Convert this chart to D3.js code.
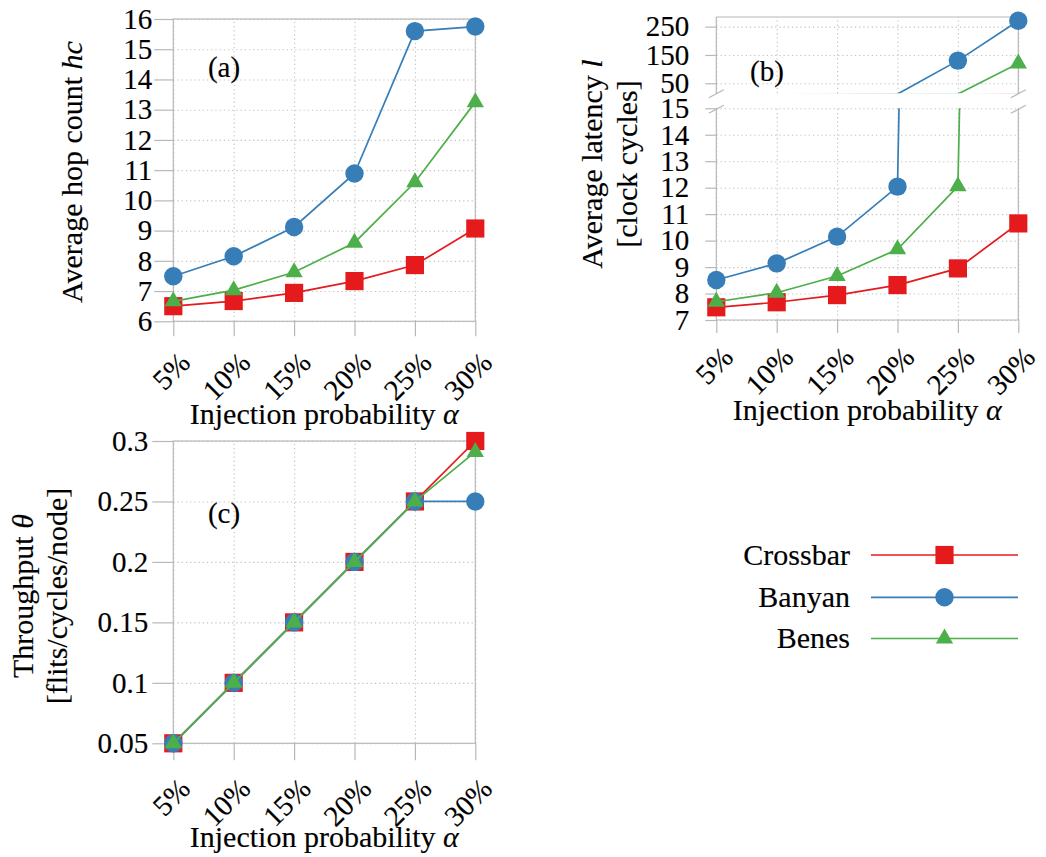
<!DOCTYPE html>
<html>
<head>
<meta charset="utf-8">
<script src="https://cdn.jsdelivr.net/npm/d3@7"></script>
<style>
  body { margin: 0; background: #fff; }
  svg text { font-family: "Liberation Serif", "Times New Roman", serif; font-size: 29px; fill: #000;
             stroke: #000; stroke-width: 0.15px; }
  svg text.label { font-size: 30px; }
</style>
</head>
<body>
<svg id="chart" width="1046" height="857"></svg>
<script>
// ---- data ----
const categories = ["5%", "10%", "15%", "20%", "25%", "30%"];
const seriesNames = ["Crossbar", "Banyan", "Benes"];

// (a) average hop count
const hopCrossbar = [6.5, 6.67, 6.94, 7.33, 7.86, 9.07];
const hopBanyan   = [7.49, 8.15, 9.12, 10.89, 15.6, 15.75];
const hopBenes    = [6.66, 7.03, 7.62, 8.6, 10.6, 13.25];

// (b) average latency
const latCrossbar = [7.48, 7.67, 7.94, 8.32, 8.95, 10.65];
const latBanyan   = [8.51, 9.14, 10.15, 12.04, 130, 271];
const latBenes    = [7.69, 8.03, 8.66, 9.67, 12.05, 120];

// (c) throughput
const thrCrossbar = [0.05, 0.1, 0.15, 0.2, 0.25, 0.3];
const thrBanyan   = [0.05, 0.1, 0.15, 0.2, 0.25, 0.25];
const thrBenes    = [0.05, 0.1, 0.15, 0.2, 0.25, 0.291];

// tick values
const hopTicks = [6, 7, 8, 9, 10, 11, 12, 13, 14, 15, 16];
const latLowTicks = [7, 8, 9, 10, 11, 12, 13, 14, 15];
const latHighTicks = [50, 150, 250];
const thrTicks = [0.05, 0.1, 0.15, 0.2, 0.25, 0.3];
const thrTickLabels = ["0.05", "0.1", "0.15", "0.2", "0.25", "0.3"];

// ---- styling ----
const colors = ["#e41a1c", "#377eb8", "#4daf4a"];
const symbols = [d3.symbolSquare, d3.symbolCircle, d3.symbolTriangle];
const symbolSizes = [330, 266, 130];
const AXIS = "#b8b8b8";
const GRID = "#c4c4c4";

const svg = d3.select("#chart");

function tidyAxis(sel) {
  sel.attr("font-family", null).attr("font-size", null);
  sel.select(".domain").remove();
  sel.selectAll(".tick line").attr("stroke", AXIS).attr("stroke-width", 1.2);
  sel.selectAll(".tick text").attr("fill", "#000");
}

function hGrid(g, x, y, ticks) {
  const ax = g.append("g").attr("transform", `translate(${x.range()[0]},0)`)
    .call(d3.axisLeft(y).tickValues(ticks).tickSize(-(x.range()[1] - x.range()[0])).tickFormat(""));
  ax.select(".domain").remove();
  ax.selectAll(".tick line").attr("stroke", GRID).attr("stroke-width", 1.1).attr("stroke-dasharray", "1.3 2.9");
}

function vGrid(g, x, yTop, yBottom) {
  const ax = g.append("g").attr("transform", `translate(0,${yBottom})`)
    .call(d3.axisBottom(x).tickSize(-(yBottom - yTop)).tickFormat(""));
  ax.select(".domain").remove();
  ax.selectAll(".tick line").attr("stroke", GRID).attr("stroke-width", 1.1).attr("stroke-dasharray", "1.3 2.9");
}

function yAxis(g, x, y, ticks, fmt, len, pad) {
  const ax = g.append("g").attr("transform", `translate(${x.range()[0]},0)`)
    .call(d3.axisLeft(y).tickValues(ticks).tickSize(len).tickPadding(pad).tickFormat(fmt));
  tidyAxis(ax);
}

function xAxis(g, x, yBase, len, dx, dy) {
  const ax = g.append("g").attr("transform", `translate(0,${yBase})`)
    .call(d3.axisBottom(x).tickSize(len));
  tidyAxis(ax);
  ax.selectAll(".tick text")
    .attr("y", null).attr("dy", null)
    .attr("text-anchor", "end")
    .attr("transform", `translate(${dx},${dy}) rotate(-45)`);
}

function xLabel(g, x, baseline) {
  const t = g.append("text").attr("class", "label").attr("x", (x.range()[0] + x.range()[1]) / 2)
    .attr("y", baseline).attr("text-anchor", "middle");
  t.append("tspan").text("Injection probability ");
  t.append("tspan").attr("font-style", "italic").text("α");
}

let clipCount = 0;
function series(g, x, y, data, clipRect, keep) {
  const id = "clip" + (clipCount++);
  svg.append("defs").append("clipPath").attr("id", id)
    .append("rect").attr("x", clipRect[0]).attr("y", clipRect[1])
    .attr("width", clipRect[2]).attr("height", clipRect[3]);
  const line = d3.line().x((d, i) => x(categories[i])).y(d => y(d));
  data.forEach((vals, s) => {
    g.append("path").attr("d", line(vals)).attr("fill", "none")
      .attr("stroke", colors[s]).attr("stroke-width", 1.7)
      .attr("clip-path", `url(#${id})`);
    g.selectAll(null).data(vals.map((v, i) => ({ v, i })).filter(d => keep(d.v)))
      .enter().append("path")
      .attr("d", d3.symbol(symbols[s], symbolSizes[s]))
      .attr("transform", d => `translate(${x(categories[d.i])},${y(d.v)})`)
      .attr("fill", colors[s]);
  });
}

// ================= (a) Average hop count =================
{
  const g = svg.append("g");
  const x = d3.scalePoint().domain(categories).range([173.3, 475.3]);
  const y = d3.scaleLinear().domain([6, 16]).range([321.3, 19]);
  hGrid(g, x, y, hopTicks);
  vGrid(g, x, 19, 321.3);
  g.append("rect").attr("x", 173.3).attr("y", 19).attr("width", 302).attr("height", 302.3)
    .attr("fill", "none").attr("stroke", AXIS).attr("stroke-width", 1.2);
  yAxis(g, x, y, hopTicks, d3.format("d"), 19, 2);
  xAxis(g, x, 321.3, 15, 18, 43);
  xLabel(g, x, 424);
  const yl = g.append("text").attr("class", "label").attr("transform", "translate(82,172) rotate(-90)").attr("text-anchor", "middle");
  yl.append("tspan").text("Average hop count ");
  yl.append("tspan").attr("font-style", "italic").text("hc");
  g.append("text").attr("x", 224).attr("y", 77).attr("text-anchor", "middle").text("(a)");
  series(g, x, y, [hopCrossbar, hopBanyan, hopBenes], [173.3, 19, 302, 302.3], () => true);
}

// ================= (b) Average latency (broken axis) =================
{
  const g = svg.append("g");
  const x = d3.scalePoint().domain(categories).range([716.3, 1018.3]);
  const yLow = d3.scaleLinear().domain([7, 15]).range([320, 108.3]);
  const yHigh = d3.scaleLinear().domain([15, 284]).range([93.2, 17]);
  const x0 = 716.3, x1 = 1018.3;

  hGrid(g, x, yLow, latLowTicks);
  hGrid(g, x, yHigh, latHighTicks);
  vGrid(g, x, 108.3, 320);
  vGrid(g, x, 17, 93.2);

  // frame: top and bottom edges, side edges interrupted at the break
  const frame = [
    [x0, 17, x1, 17], [x0, 320, x1, 320],
    [x0, 17, x0, 93.5], [x1, 17, x1, 93.5],
    [x0, 108.5, x0, 320], [x1, 108.5, x1, 320]
  ];
  g.selectAll(null).data(frame).enter().append("line")
    .attr("x1", d => d[0]).attr("y1", d => d[1]).attr("x2", d => d[2]).attr("y2", d => d[3])
    .attr("stroke", AXIS).attr("stroke-width", 1.2);
  // break marks
  const breaks = [[x0, 93.8], [x0, 109.3], [x1, 93.8], [x1, 109.3]];
  g.selectAll(null).data(breaks).enter().append("line")
    .attr("x1", d => d[0] - 7.5).attr("y1", d => d[1] + 4)
    .attr("x2", d => d[0] + 7.5).attr("y2", d => d[1] - 4)
    .attr("stroke", AXIS).attr("stroke-width", 1.2);

  yAxis(g, x, yLow, latLowTicks, d3.format("d"), 11, 16);
  yAxis(g, x, yHigh, latHighTicks, d3.format("d"), 11, 16);
  xAxis(g, x, 320, 13, 18, 39);
  xLabel(g, x, 420);

  const yl = g.append("text").attr("class", "label").attr("transform", "translate(602,164) rotate(-90)").attr("text-anchor", "middle");
  yl.append("tspan").text("Average latency ");
  yl.append("tspan").attr("font-style", "italic").text("l");
  g.append("text").attr("class", "label").attr("transform", "translate(637,164) rotate(-90)").attr("text-anchor", "middle")
    .text("[clock cycles]");
  g.append("text").attr("x", 767).attr("y", 81).attr("text-anchor", "middle").text("(b)");

  const data = [latCrossbar, latBanyan, latBenes];
  series(g, x, yLow, data, [x0, 108.3, x1 - x0, 320 - 108.3], v => v >= 7 && v <= 15);
  series(g, x, yHigh, data, [x0, 17, x1 - x0, 93.2 - 17], v => v > 15 && v <= 284);
}

// ================= (c) Throughput =================
{
  const g = svg.append("g");
  const x = d3.scalePoint().domain(categories).range([173.3, 475.3]);
  const y = d3.scaleLinear().domain([0.05, 0.3]).range([743.3, 441]);
  hGrid(g, x, y, thrTicks);
  vGrid(g, x, 441, 743.3);
  g.append("rect").attr("x", 173.3).attr("y", 441).attr("width", 302).attr("height", 302.3)
    .attr("fill", "none").attr("stroke", AXIS).attr("stroke-width", 1.2);
  yAxis(g, x, y, thrTicks, (d, i) => thrTickLabels[i], 21, 4);
  xAxis(g, x, 743.3, 17, 18, 47);
  xLabel(g, x, 846.7);
  const yl = g.append("text").attr("class", "label").attr("transform", "translate(32.5,596) rotate(-90)").attr("text-anchor", "middle");
  yl.append("tspan").text("Throughput ");
  yl.append("tspan").attr("font-style", "italic").text("θ");
  g.append("text").attr("class", "label").attr("transform", "translate(66.5,596) rotate(-90)").attr("text-anchor", "middle")
    .text("[flits/cycles/node]");
  g.append("text").attr("x", 224).attr("y", 522.7).attr("text-anchor", "middle").text("(c)");
  series(g, x, y, [thrCrossbar, thrBanyan, thrBenes], [173.3, 441, 302, 302.3], () => true);
}

// ================= legend =================
{
  const rows = [555, 597.3, 638.5];
  const lg = svg.append("g");
  seriesNames.forEach((name, s) => {
    lg.append("text").attr("class", "label").attr("x", 850).attr("y", rows[s] + 9.5).attr("text-anchor", "end").text(name);
    lg.append("line").attr("x1", 871).attr("x2", 1018).attr("y1", rows[s]).attr("y2", rows[s])
      .attr("stroke", colors[s]).attr("stroke-width", 1.7);
    lg.append("path").attr("d", d3.symbol(symbols[s], symbolSizes[s]))
      .attr("transform", `translate(944.5,${rows[s]})`).attr("fill", colors[s]);
  });
}
</script>
</body>
</html>
